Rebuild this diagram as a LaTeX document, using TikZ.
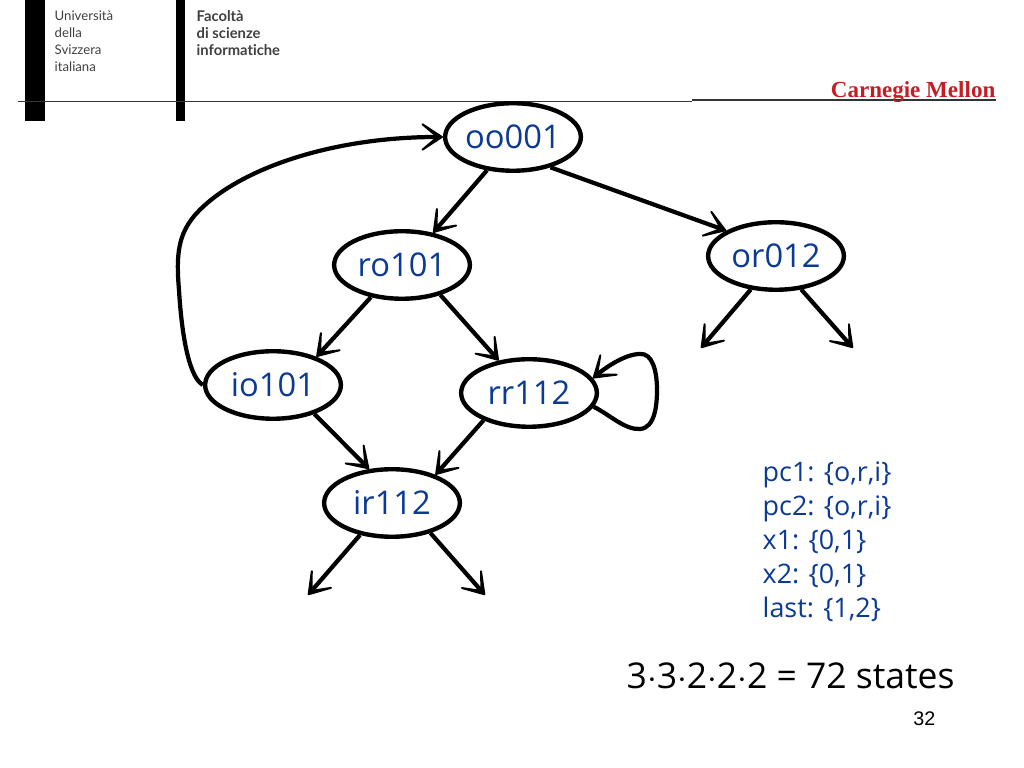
\documentclass[tikz,border=0pt]{standalone}
\usepackage{fontspec}
\setmainfont{Open Sans}
\newfontfamily\headfont[Ligatures=NoCommon]{Lato}
\newfontfamily\cmufont{Liberation Serif}
\newfontfamily\numfont{Liberation Sans}
\usetikzlibrary{shapes.geometric,arrows.meta}
\definecolor{stateblue}{HTML}{0B3A94}
\definecolor{cmured}{HTML}{C41E24}
\tikzset{
    state/.style={ellipse, draw, line width=1.25pt, fill=white, inner sep=0pt,
        minimum width=38.6pt, minimum height=19.2pt, text=stateblue,
        font=\fontsize{9.3}{12}\selectfont},
    edge/.style={line width=1.2pt, ->, >={Stealth[length=9.6pt, width=12.5pt, inset=7.4pt, round, line width=1.15pt]}},
    head/.style={anchor=north west, align=left, inner sep=0pt, text=black!75,
        font=\headfont\fontsize{3.75}{4.85}\selectfont}
}
\begin{document}
\begin{tikzpicture}[x=0.01cm, y=-0.01cm]
        \useasboundingbox (0,0) rectangle (1024,768);

        % Header
        \fill (25,0) rectangle (45,121);
        \fill (176,0) rectangle (185,121);
        \draw[line width=0.25pt, black!80] (18,101) -- (692,101);
        \draw[line width=0.45pt, black!80] (692,100) -- (996,100);
        \node[head] (usi) at (54,10) {Università\\della\\Svizzera\\italiana};
        \node[head, font=\headfont\bfseries\fontsize{4.2}{4.85}\selectfont] (fac) at (196,10) {Facoltà\\di scienze\\informatiche};
        \node[anchor=east, inner sep=0pt, text=cmured, font=\cmufont\bfseries\fontsize{6.55}{7}\selectfont] (cmu) at (996,92) {Carnegie Mellon};

        % States
        \node[state] (oo001) at (513,137) {oo001};
        \node[state] (ro101) at (402,265) {ro101};
        \node[state] (or012) at (776,256) {or012};
        \node[state] (io101) at (273,385) {io101};
        \node[state] (rr112) at (529,393) {rr112};
        \node[state] (ir112) at (392,503) {ir112};

        % Free ends of the open transitions
        \coordinate (or012l) at (701,348);
        \coordinate (or012r) at (853,348);
        \coordinate (ir112l) at (308,595);
        \coordinate (ir112r) at (485,595);

        % Transitions
        \draw[edge] (oo001.-128) -- (ro101.46);
        \draw[edge] (oo001.-39) -- (or012.153);
        \draw[edge] (ro101.-134) -- (io101.33);
        \draw[edge] (ro101.-38) -- (rr112.133);
        \draw[edge] (io101.-35) -- (ir112.124);
        \draw[edge] (rr112.-149) -- (ir112.33);
        \draw[edge] (or012.-127) -- (or012l);
        \draw[edge] (or012.-53) -- (or012r);
        \draw[edge] (ir112.-135) -- (ir112l);
        \draw[edge] (ir112.-38) -- (ir112r);

        % Back edge and self loop
        \draw[edge] (io101.west) .. controls (190,378) and (182,340) .. (179,290)
            .. controls (176,255) and (178,235) .. (195,215)
            .. controls (235,170) and (330,137) .. (oo001.west);
        \draw[edge] (rr112.-12) .. controls (610,415) and (625,430) .. (640,429)
            .. controls (655,428) and (657,405) .. (657,390)
            .. controls (657,370) and (652,353) .. (640,354)
            .. controls (625,354) and (605,368) .. (rr112.13);

        % Variable domains
        \node[anchor=north west, align=left, text=stateblue, inner sep=0pt,
            font=\fontsize{7.65}{9.65}\selectfont] (domains) at (762,461)
            {pc1: \{o,r,i\}\\pc2: \{o,r,i\}\\x1: \{0,1\}\\x2: \{0,1\}\\last: \{1,2\}};
        \node[anchor=west, inner sep=0pt, font=\fontsize{10.1}{12}\selectfont] (count) at (626,676)
            {3$\cdot$3$\cdot$2$\cdot$2$\cdot$2 = 72 states};
        \node[anchor=east, inner sep=0pt, font=\numfont\fontsize{5.6}{7}\selectfont] (page) at (936,719) {32};
\end{tikzpicture}
\end{document}
